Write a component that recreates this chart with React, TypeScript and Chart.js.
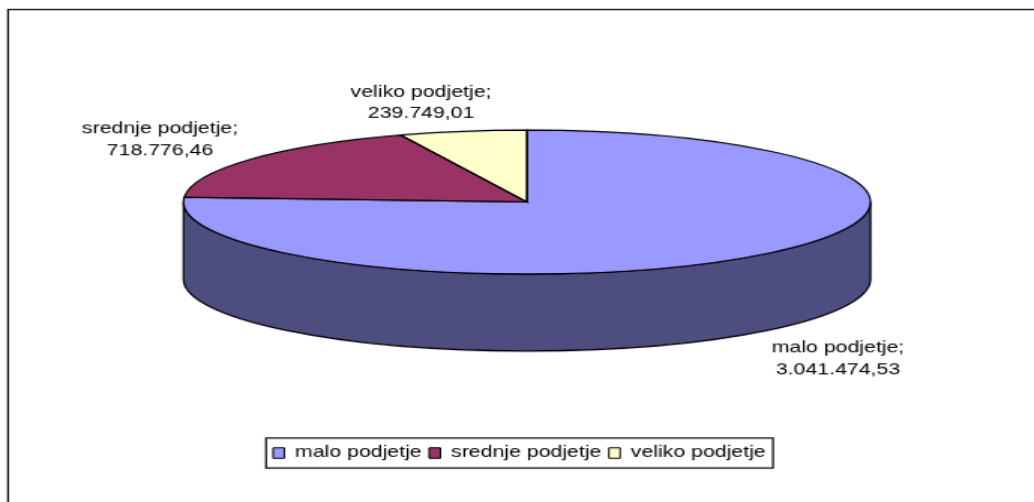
import React, { useEffect, useRef } from "react";
import { Chart, registerables } from "chart.js";

Chart.register(...registerables);

const categories = ["malo podjetje", "srednje podjetje", "veliko podjetje"];
const values = [3041474.53, 718776.46, 239749.01];
const topColors = ["#9999FF", "#993366", "#FFFFCC"];
const wallColors = ["#4D4D80", "#4D1A33", "#808066"];

// The picture is a stretched raster: draw small, then scale by CSS.
const SX = 1.5;
const SY = 1.1;
const PAGE_W = 1034;
const PAGE_H = 502;
const W = Math.round(PAGE_W / SX);
const H = Math.round(PAGE_H / SY);
const px = (x: number) => x * (W / PAGE_W);
const py = (y: number) => y * (H / PAGE_H);

const FONT = '14.2px "Liberation Sans", Arial, sans-serif';
const labelSpots = [
  { x: 838, y1: 348.5, y2: 370 },
  { x: 160, y1: 129, y2: 151 },
  { x: 421, y1: 93, y2: 114 },
];
const fmt = (v: number) =>
  v.toLocaleString("de-DE", { minimumFractionDigits: 2, maximumFractionDigits: 2 });

const pie3d = {
  id: "pie3d",
  beforeDraw(chart: any) {
    const { ctx } = chart;
    ctx.save();
    ctx.fillStyle = "#fff";
    ctx.fillRect(0, 0, W, H);
    ctx.strokeStyle = "#000";
    ctx.lineWidth = 1.2;
    ctx.strokeRect(px(8), py(9.5), W + 20, H + 20);
    ctx.fillStyle = "#fff";
    ctx.fillRect(px(266), py(438), px(507), py(30));
    ctx.strokeRect(px(266), py(438), px(507), py(30));
    ctx.restore();
  },
  beforeDatasetsDraw(chart: any) {
    const { ctx } = chart;
    const arcs = chart.getDatasetMeta(0).data;
    const cx = px(527), cy = py(202), rx = px(343.5), ry = py(72), d = py(77);
    // side wall of the slices that face the viewer
    ctx.save();
    ctx.strokeStyle = "#000";
    ctx.lineWidth = 1.2;
    arcs.forEach((a: any, i: number) => {
      const s = Math.max(a.startAngle, 0);
      const e = Math.min(a.endAngle, Math.PI);
      if (e <= s) return;
      ctx.beginPath();
      ctx.ellipse(cx, cy, rx, ry, 0, s, e);
      ctx.ellipse(cx, cy + d, rx, ry, 0, e, s, true);
      ctx.closePath();
      ctx.fillStyle = wallColors[i];
      ctx.fill();
      ctx.stroke();
    });
    ctx.restore();
    // squash the library's round arcs into the tilted top face
    const a0 = arcs[0];
    const R = a0.outerRadius;
    ctx.save();
    ctx.translate(cx, cy);
    ctx.scale(rx / R, ry / R);
    ctx.translate(-a0.x, -a0.y);
  },
  afterDatasetsDraw(chart: any) {
    const { ctx } = chart;
    ctx.restore();
    const arcs = chart.getDatasetMeta(0).data;
    const cx = px(527), cy = py(202), rx = px(343.5), ry = py(72);
    ctx.save();
    ctx.strokeStyle = "#000";
    ctx.lineWidth = 1.2;
    arcs.forEach((a: any) => {
      ctx.beginPath();
      ctx.moveTo(cx, cy);
      ctx.ellipse(cx, cy, rx, ry, 0, a.startAngle, a.endAngle);
      ctx.closePath();
      ctx.stroke();
    });
    ctx.fillStyle = "#000";
    ctx.font = FONT;
    ctx.textAlign = "center";
    ctx.textBaseline = "middle";
    categories.forEach((c, i) => {
      const p = labelSpots[i];
      ctx.fillText(c + ";", px(p.x), py(p.y1));
      ctx.fillText(fmt(values[i]), px(p.x), py(p.y2));
    });
    ctx.restore();
  },
};

export default function App() {
  const ref = useRef<HTMLCanvasElement | null>(null);
  useEffect(() => {
    const chart = new Chart(ref.current as HTMLCanvasElement, {
      type: "pie",
      data: {
        labels: categories,
        datasets: [
          { data: values, backgroundColor: topColors, borderWidth: 0, clip: false } as any,
        ],
      },
      options: {
        animation: false,
        responsive: false,
        devicePixelRatio: 1,
        layout: { padding: { left: 3.2, bottom: 27.4 } },
        plugins: {
          tooltip: { enabled: false },
          legend: {
            position: "bottom",
            labels: {
              font: { family: '"Liberation Sans", Arial, sans-serif', size: 14.2 },
              color: "#000",
              boxWidth: 7.5,
              boxHeight: 9.5,
              padding: 5,
              generateLabels(c: any) {
                return (Chart as any).overrides.doughnut.plugins.legend.labels
                  .generateLabels(c)
                  .map((l: any) => ({ ...l, strokeStyle: "#000", lineWidth: 1 }));
              },
            },
          },
        },
      },
      plugins: [pie3d],
    } as any);
    return () => chart.destroy();
  }, []);
  return (
    <canvas
      ref={ref}
      width={W}
      height={H}
      style={{ position: "fixed", left: 0, top: 0, width: PAGE_W, height: PAGE_H, display: "block" }}
    />
  );
}
